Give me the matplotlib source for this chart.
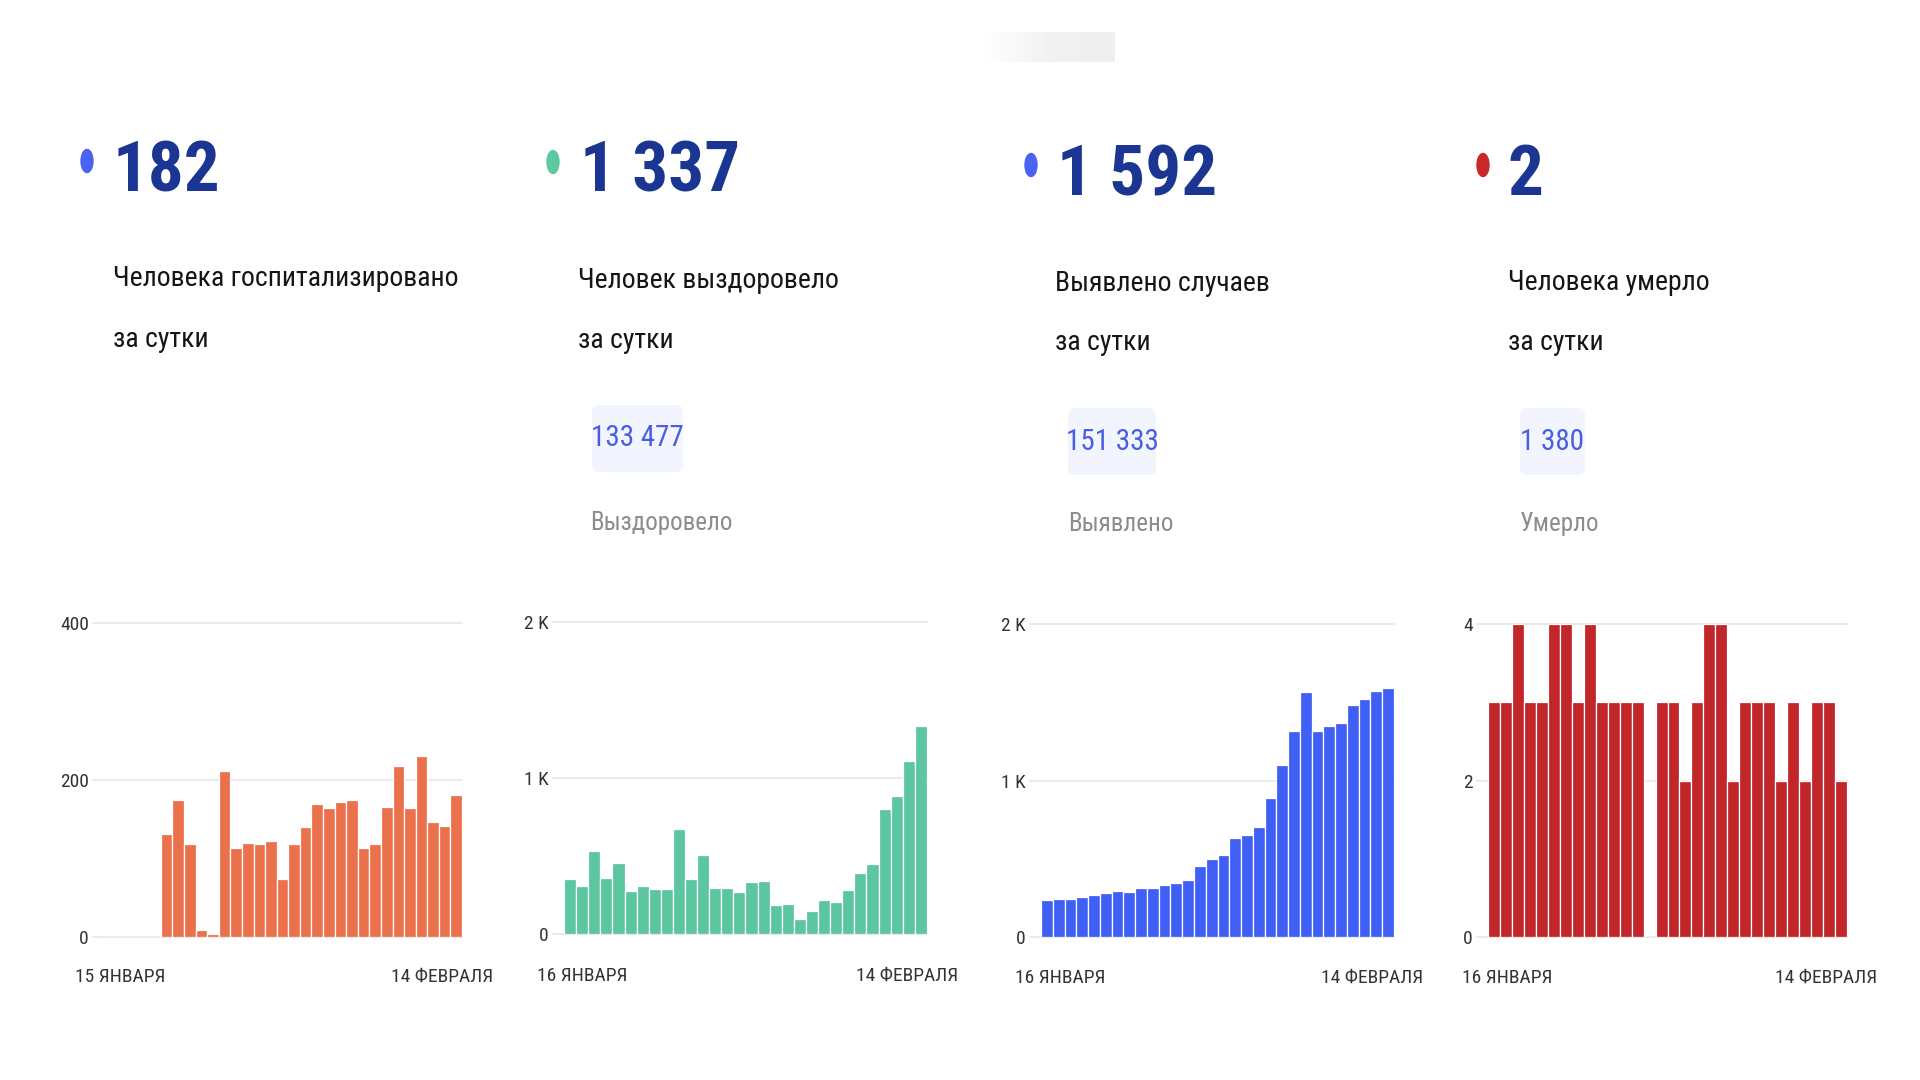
import matplotlib
matplotlib.use("Agg")
import matplotlib.pyplot as plt
import numpy as np
from matplotlib.patches import Ellipse, FancyBboxPatch
from matplotlib.transforms import IdentityTransform
from matplotlib.colors import LinearSegmentedColormap
from matplotlib import font_manager

# ---------------- data ----------------
hosp_values = [np.nan, np.nan, np.nan, np.nan, np.nan,
               131, 175, 118, 9, 4, 212, 113, 120, 119, 122, 74, 119, 140,
               169, 164, 172, 175, 114, 119, 166, 218, 164, 231, 146, 142, 181]
recov_values = [352, 305, 529, 356, 454, 273, 309, 288, 288, 672, 352, 505,
                292, 294, 267, 335, 339, 183, 192, 98, 147, 217, 207, 284,
                390, 450, 802, 883, 1109, 1333]
cases_values = [238, 243, 245, 257, 268, 281, 291, 287, 311, 315, 332, 347,
                362, 451, 496, 521, 634, 649, 700, 887, 1102, 1317, 1564, 1317,
                1351, 1370, 1485, 1523, 1572, 1589]
death_values = [3, 3, 4, 3, 3, 4, 4, 3, 4, 3, 3, 3, 3, 0, 3, 3, 2, 3, 4, 4,
                2, 3, 3, 3, 2, 3, 2, 3, 3, 2]

headline_numbers = ["182", "1 337", "1 592", "2"]
title_lines = [["Человека госпитализировано", "за сутки"],
               ["Человек выздоровело", "за сутки"],
               ["Выявлено случаев", "за сутки"],
               ["Человека умерло", "за сутки"]]
total_numbers = [None, "133 477", "151 333", "1 380"]
total_labels = [None, "Выздоровело", "Выявлено", "Умерло"]
start_labels = ["15 ЯНВАРЯ", "16 ЯНВАРЯ", "16 ЯНВАРЯ", "16 ЯНВАРЯ"]
end_labels = ["14 ФЕВРАЛЯ", "14 ФЕВРАЛЯ", "14 ФЕВРАЛЯ", "14 ФЕВРАЛЯ"]
y_ticks = [[0, 200, 400], [0, 1000, 2000], [0, 1000, 2000], [0, 2, 4]]
y_ticklabels = [["0", "200", "400"], ["0", "1 K", "2 K"], ["0", "1 K", "2 K"], ["0", "2", "4"]]

# ---------------- style ----------------
W, H = 1920, 1080
installed = {f.name for f in font_manager.fontManager.ttflist}
preferred = ['Roboto Condensed', 'Open Sans Condensed', 'Liberation Sans Narrow',
             'Roboto', 'DejaVu Sans']
FONT = [f for f in preferred if f in installed] or ['DejaVu Sans']
plt.rcParams['font.family'] = FONT
condensed = FONT[0] in ('Roboto Condensed', 'Open Sans Condensed', 'Liberation Sans Narrow')

bar_colors = ['#ea714c', '#5cc6a1', '#3f5ff5', '#c0262a']
dot_colors = ['#4a63f0', '#5cc9a0', '#4a63f0', '#c8282a']
navy = '#1b3592'

num_size = 51 if condensed else 44
title_size = 20 if condensed else 18
box_size = 21 if condensed else 18
lab_size = 18 if condensed else 16
tick_size = 14 if condensed else 12.5

fig = plt.figure(figsize=(19.2, 10.8), dpi=100)
fig.patch.set_facecolor('white')

def fx(x):
    return x / W

def fy(y):
    return 1 - y / H

# faint gradient strip at the top
gax = fig.add_axes([fx(987), fy(62), fx(1115) - fx(987), fy(32) - fy(62)])
grad = np.linspace(0, 1, 256).reshape(1, -1)
gcm = LinearSegmentedColormap.from_list('g', ['#ffffff', '#f1f1f1', '#efefef'])
gax.imshow(grad, aspect='auto', cmap=gcm)
gax.axis('off')

cols = [
    dict(dot=(87, 161), num=(113, 191), t1=(113, 286), t2=(113, 347),
         box=None, lab=None,
         grid_x0=93, bar_x0=103, bar_x1=462, y0=937, ytop=623,
         xl=(75, 977), xr=(493, 977)),
    dict(dot=(553, 162), num=(580, 192), t1=(578, 288), t2=(578, 348),
         box=(592, 405, 683, 472), lab=(590, 530),
         grid_x0=553, bar_x0=564, bar_x1=927, y0=934, ytop=622,
         xl=(537, 976), xr=(958, 976)),
    dict(dot=(1031, 165), num=(1057, 195), t1=(1055, 291), t2=(1055, 350),
         box=(1068, 408, 1156, 475), lab=(1068, 531),
         grid_x0=1030, bar_x0=1041, bar_x1=1394, y0=937, ytop=624,
         xl=(1015, 978), xr=(1423, 978)),
    dict(dot=(1483, 165), num=(1508, 195), t1=(1508, 290), t2=(1508, 350),
         box=(1520, 408, 1585, 475), lab=(1520, 531),
         grid_x0=1477, bar_x0=1488, bar_x1=1847, y0=937, ytop=624,
         xl=(1462, 978), xr=(1877, 978)),
]

series = [hosp_values, recov_values, cases_values, death_values]

for i, c in enumerate(cols):
    fig.patches.append(Ellipse((c['dot'][0], H - c['dot'][1]), 12, 23,
                               transform=IdentityTransform(), color=dot_colors[i],
                               figure=fig))
    fig.text(fx(c['num'][0]), fy(c['num'][1]), headline_numbers[i], fontsize=num_size,
             fontweight='bold', color=navy, va='baseline', ha='left')
    fig.text(fx(c['t1'][0]), fy(c['t1'][1]), title_lines[i][0], fontsize=title_size,
             color='#151515', va='baseline', ha='left')
    fig.text(fx(c['t2'][0]), fy(c['t2'][1]), title_lines[i][1], fontsize=title_size,
             color='#151515', va='baseline', ha='left')
    if c['box'] is not None:
        x0, y0b, x1, y1b = c['box']
        fig.patches.append(FancyBboxPatch((x0, H - y1b), x1 - x0, y1b - y0b,
                                          boxstyle='round,pad=0,rounding_size=7',
                                          transform=IdentityTransform(),
                                          facecolor='#f2f5fd', edgecolor='none',
                                          figure=fig))
        fig.text(fx((x0 + x1) / 2), fy((y0b + y1b) / 2), total_numbers[i],
                 fontsize=box_size, color='#4a5ee0', ha='center', va='center')
        fig.text(fx(c['lab'][0]), fy(c['lab'][1]), total_labels[i], fontsize=lab_size,
                 color='#8c8c8c', ha='left', va='baseline')

    vals = np.array(series[i], dtype=float)
    n = len(vals)
    slot = (c['bar_x1'] - c['bar_x0']) / n
    left_pad = (c['bar_x0'] - c['grid_x0']) / slot
    ax = fig.add_axes([fx(c['grid_x0']), fy(c['y0']),
                       fx(c['bar_x1']) - fx(c['grid_x0']), fy(c['ytop']) - fy(c['y0'])])
    ax.set_xlim(-0.5 - left_pad, n - 0.5)
    ax.set_ylim(0, y_ticks[i][-1])
    ax.bar(np.arange(n), np.nan_to_num(vals), width=1.0, color=bar_colors[i],
           edgecolor='white', linewidth=0.9, zorder=3)
    for t in y_ticks[i]:
        ax.axhline(t, color='#ebebeb', linewidth=1.4, zorder=1, clip_on=False)
    ax.set_yticks(y_ticks[i])
    ax.set_yticklabels(y_ticklabels[i])
    ax.set_xticks([])
    ax.tick_params(axis='y', length=0, pad=3, labelsize=tick_size, labelcolor='#333333')
    for s in ax.spines.values():
        s.set_visible(False)
    ax.patch.set_alpha(0)

    fig.text(fx(c['xl'][0]), fy(c['xl'][1]), start_labels[i], fontsize=tick_size,
             color='#333333', ha='left', va='center')
    fig.text(fx(c['xr'][0]), fy(c['xr'][1]), end_labels[i], fontsize=tick_size,
             color='#333333', ha='right', va='center')

fig.savefig('out.png', dpi=100, facecolor='white')
